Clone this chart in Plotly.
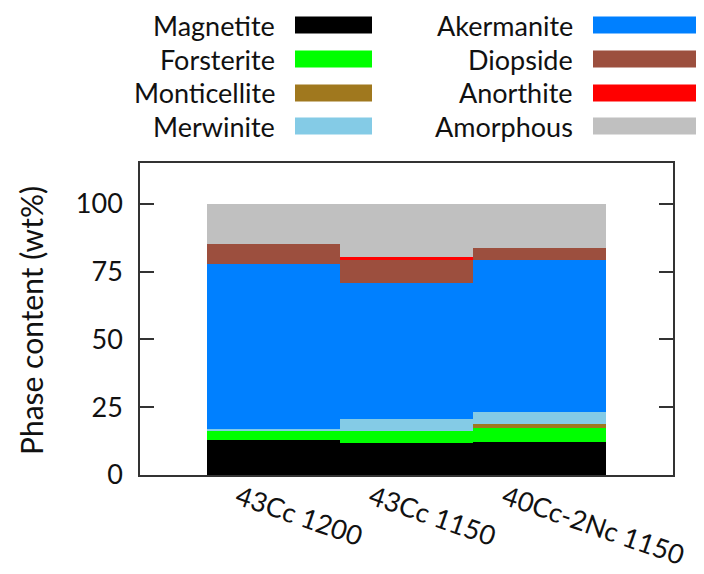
import plotly.graph_objects as go

categories = ["43Cc 1200", "43Cc 1150", "40Cc-2Nc 1150"]
phases = ["Magnetite", "Forsterite", "Monticellite", "Merwinite",
          "Akermanite", "Diopside", "Anorthite", "Amorphous"]
magnetite = [12.9, 11.9, 12.0]
forsterite = [3.4, 4.4, 5.4]
monticellite = [0.0, 0.0, 1.5]
merwinite = [0.7, 4.2, 4.2]
akermanite = [60.7, 50.3, 56.3]
diopside = [7.3, 8.8, 4.3]
anorthite = [0.0, 0.6, 0.0]
amorphous = [15.0, 19.8, 16.3]
series = [magnetite, forsterite, monticellite, merwinite,
          akermanite, diopside, anorthite, amorphous]
colors = ["#000000", "#00ff00", "#a0781e", "#84cbe6",
          "#0080ff", "#9c4f3e", "#ff0000", "#c0c0c0"]
y_ticks = [0, 25, 50, 75, 100]

FONT = "Lato"
OFF = 8  # page body margin
W, H = 704 - OFF, 574 - OFF
# plot area in screen pixels: x 140..673, y 163..475
L, T = 140 - OFF, 163 - OFF
R, B = W - (673 - OFF), H - (475 - OFF)
pw, ph = W - L - R, H - T - B

def px_x(p):
    return (p - OFF - L) / pw

def px_y(p):
    return (H - B - (p - OFF)) / ph

fig = go.Figure()
xs = list(range(len(categories)))
for name, vals, col in zip(phases, series, colors):
    fig.add_trace(go.Bar(x=xs, y=vals, name=name, width=1,
                         marker=dict(color=col, line=dict(width=0)),
                         showlegend=False))

# custom legend (text right-aligned left of swatch, gnuplot style)
row_y = [25, 59, 93, 126]
cols = [(277, 295, 372), (575, 593, 704)]
for i, (name, col) in enumerate(zip(phases, colors)):
    c, r = divmod(i, 4)
    tx, sx0, sx1 = cols[c]
    yc = row_y[r]
    fig.add_annotation(x=px_x(tx), y=px_y(yc), xref="paper", yref="paper",
                       text=name, showarrow=False, xanchor="right", yanchor="middle",
                       font=dict(family=FONT, size=27, color="#111111"))
    fig.add_shape(type="rect", xref="paper", yref="paper",
                  x0=px_x(sx0), x1=px_x(sx1), y0=px_y(yc - 8.5), y1=px_y(yc + 8.5),
                  fillcolor=col, line=dict(width=0))

# y-axis title
fig.add_annotation(x=px_x(31), y=px_y(321), xref="paper", yref="paper",
                   text="Phase content (wt%)", showarrow=False, textangle=-90,
                   xanchor="center", yanchor="middle",
                   font=dict(family=FONT, size=30, color="#111111"))

fig.update_layout(
    width=W, height=H, barmode="stack", bargap=0,
    margin=dict(l=L, r=R, t=T, b=B, autoexpand=False),
    paper_bgcolor="white", plot_bgcolor="white",
    font=dict(family=FONT, size=27, color="#111111"),
)
fig.update_xaxes(range=[-1, 3], tickvals=xs, ticktext=categories,
                 tickangle=19, ticks="", showline=True, linecolor="#333333",
                 linewidth=1.5, mirror=True, showgrid=False, zeroline=False,
                 ticklabelshift=-35, ticklabelstandoff=-5,
                 tickfont=dict(family=FONT, size=27))
fig.update_yaxes(range=[0, 115], tickvals=y_ticks, ticks="inside", ticklen=14,
                 tickcolor="#333333", tickwidth=1.5,
                 showline=True, linecolor="#333333", linewidth=1.5,
                 mirror="ticks", showgrid=False, zeroline=False,
                 ticklabelstandoff=10,
                 tickfont=dict(family=FONT, size=27))

fig.write_html("out.html")
